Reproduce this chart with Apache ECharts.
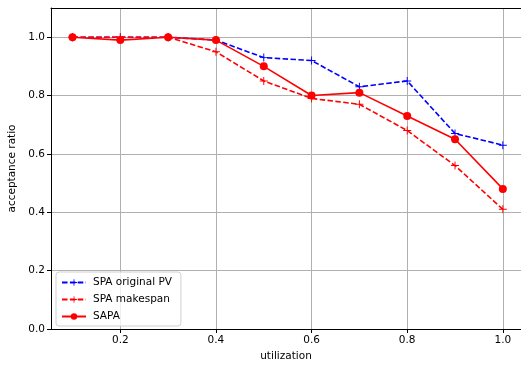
<!DOCTYPE html>
<html>
<head>
<meta charset="utf-8">
<script src="https://cdn.jsdelivr.net/npm/echarts@6/dist/echarts.min.js"></script>
<style>
  html, body { margin: 0; padding: 0; background: #fff; }
  #chart { width: 521px; height: 368px; }
</style>
</head>
<body>
<div id="chart"></div>
<script>
const utilization = [0.1, 0.2, 0.3, 0.4, 0.5, 0.6, 0.7, 0.8, 0.9, 1.0];
const spaOriginalPV = [1.0, 1.0, 1.0, 0.99, 0.93, 0.92, 0.83, 0.85, 0.67, 0.63];
const spaMakespan = [1.0, 1.0, 1.0, 0.95, 0.85, 0.79, 0.77, 0.68, 0.56, 0.41];
const sapa = [1.0, 0.99, 1.0, 0.99, 0.90, 0.80, 0.81, 0.73, 0.65, 0.48];
const xTicks = [0.2, 0.4, 0.6, 0.8, 1.0];
const yTicks = [0.0, 0.2, 0.4, 0.6, 0.8, 1.0];

const chart = echarts.init(document.getElementById('chart'));
const font = 'DejaVu Sans';
const plus = 'path://M4.4,0H5.6V4.4H10V5.6H5.6V10H4.4V5.6H0V4.4H4.4Z';
const pairs = (ys) => utilization.map((x, i) => [x, ys[i]]);

const options = {
  animation: false,
  textStyle: { fontFamily: font },
  grid: {
    left: 51, top: 8, bottom: 39, right: 0,
    outerBoundsMode: 'none',
    containLabel: false
  },
  xAxis: [
    {
      type: 'value',
      min: 0.055, max: 1.038,
      name: 'utilization',
      nameLocation: 'middle',
      nameGap: 22,
      nameTextStyle: { fontSize: 10.5, color: '#000' },
      axisLine: { show: true, lineStyle: { color: '#000' } },
      axisTick: { show: true, length: 4, customValues: xTicks, lineStyle: { color: '#000' } },
      axisLabel: { customValues: xTicks, fontSize: 10.5, color: '#000', margin: 6,
        formatter: v => v.toFixed(1) },
      splitLine: { show: true, lineStyle: { color: '#b0b0b0', width: 1 } }
    },
    {
      // top spine only
      type: 'value',
      position: 'top',
      min: 0.055, max: 1.038,
      axisLine: { show: true, onZero: false, lineStyle: { color: '#000' } },
      axisTick: { show: false },
      axisLabel: { show: false },
      splitLine: { show: false }
    }
  ],
  yAxis: {
    type: 'value',
    min: 0, max: 1.1,
    name: 'acceptance ratio',
    nameLocation: 'middle',
    nameGap: 27,
    nameTextStyle: { fontSize: 10.5, color: '#000' },
    axisLine: { show: true, lineStyle: { color: '#000' } },
    axisTick: { show: true, length: 4, customValues: yTicks, lineStyle: { color: '#000' } },
    axisLabel: { customValues: yTicks, fontSize: 10.5, color: '#000', margin: 6,
      formatter: v => v.toFixed(1) },
    splitLine: { show: true, lineStyle: { color: '#b0b0b0', width: 1 } }
  },
  legend: {
    orient: 'vertical',
    left: 56, top: 272,
    itemWidth: 24, itemHeight: 8,
    itemGap: 6,
    padding: [5, 9, 4, 5],
    backgroundColor: 'rgba(255,255,255,0.8)',
    borderColor: '#d0d0d0', borderWidth: 1, borderRadius: 3,
    textStyle: { fontSize: 10.5, color: '#000', fontFamily: font, padding: [0, 0, 0, 2] },
    data: ['SPA original PV', 'SPA makespan', 'SAPA']
  },
  series: [
    {
      name: 'SPA original PV',
      type: 'line',
      data: pairs(spaOriginalPV),
      symbol: plus, symbolSize: 8,
      itemStyle: { color: '#0000ff' },
      lineStyle: { color: '#0000ff', width: 1.6, type: [5.5, 2.4] },
      z: 2
    },
    {
      name: 'SPA makespan',
      type: 'line',
      data: pairs(spaMakespan),
      symbol: plus, symbolSize: 8,
      itemStyle: { color: '#ff0000' },
      lineStyle: { color: '#ff0000', width: 1.6, type: [5.5, 2.4] },
      z: 3
    },
    {
      name: 'SAPA',
      type: 'line',
      data: pairs(sapa),
      symbol: 'circle', symbolSize: 8,
      itemStyle: { color: '#ff0000' },
      lineStyle: { color: '#ff0000', width: 1.6 },
      z: 4
    }
  ]
};

chart.setOption(options);
</script>
</body>
</html>
